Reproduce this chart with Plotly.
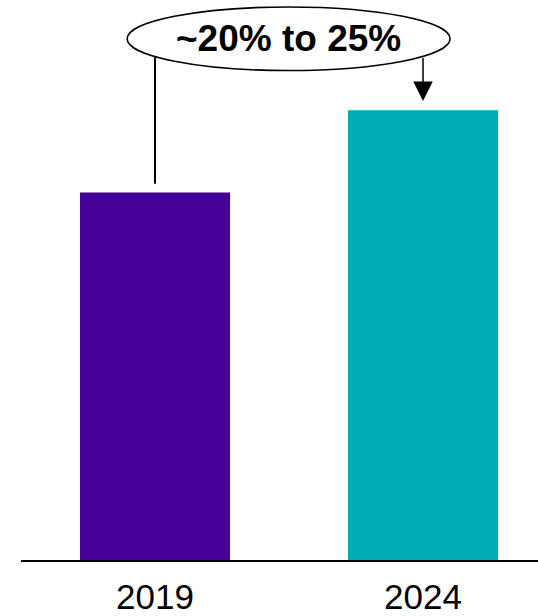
import plotly.graph_objects as go
import math

# Data
years = ["2019", "2024"]
values = [100, 122.4]          # indexed bar heights
bar_colors = ["#440099", "#00ADB6"]
growth_label = "~20% to 25%"

x_pos = list(range(len(years)))

fig = go.Figure()
fig.add_trace(go.Bar(
    x=x_pos, y=values, width=0.56,
    marker=dict(color=bar_colors, line=dict(width=0)),
    hoverinfo="skip",
))

y_max = 152.4
# Ellipse callout (data-space geometry)
ex0, ex1 = -0.104, 1.101
ey0, ey1 = 133.2, 150.5
ecx, ecy = (ex0 + ex1) / 2, (ey0 + ey1) / 2
erx, ery = (ex1 - ex0) / 2, (ey1 - ey0) / 2

def ellipse_bottom(x):
    d = (x - ecx) / erx
    return ecy - ery * math.sqrt(max(0.0, 1 - d * d))

fig.add_shape(type="circle", xref="x", yref="y",
              x0=ex0, x1=ex1, y0=ey0, y1=ey1,
              line=dict(color="black", width=1.6), fillcolor="white", layer="above")

# Line from 2019 bar up to ellipse
fig.add_shape(type="line", xref="x", yref="y",
              x0=x_pos[0], x1=x_pos[0], y0=values[0] + 2.4, y1=ellipse_bottom(x_pos[0]),
              line=dict(color="black", width=2))

# Arrow from ellipse down to 2024 bar
fig.add_annotation(x=x_pos[1], y=values[1] + 2.5, ax=x_pos[1], ay=ellipse_bottom(x_pos[1]),
                   xref="x", yref="y", axref="x", ayref="y",
                   showarrow=True, arrowhead=2, arrowsize=2.6, arrowwidth=1.5,
                   arrowcolor="black", text="")

fig.add_annotation(x=ecx, y=ecy, xref="x", yref="y", text="<b>" + growth_label + "</b>",
                   showarrow=False,
                   font=dict(family="Liberation Sans, Arial, sans-serif", size=37, color="black"))

fig.update_layout(
    width=538, height=616,
    margin=dict(l=21, r=0, t=0, b=52),
    paper_bgcolor="white", plot_bgcolor="white",
    showlegend=False,
    xaxis=dict(range=[-0.5, 1.429], tickvals=x_pos, ticktext=years,
               showgrid=False, zeroline=False, showline=True, linecolor="black", linewidth=1.5,
               ticks="", ticklabelstandoff=5,
               tickfont=dict(family="Liberation Sans, Arial, sans-serif", size=35, color="black"),
               fixedrange=True),
    yaxis=dict(range=[0, y_max], visible=False, showgrid=False, zeroline=False, fixedrange=True),
)

fig.write_html("out.html", config={"displayModeBar": False})

# Remove default page margin so the figure sits at the window's top-left corner
with open("out.html", "r", encoding="utf-8") as f:
    html = f.read()
html = html.replace("<head>", "<head><style>html,body{margin:0;padding:0;overflow:hidden;}</style>", 1)
with open("out.html", "w", encoding="utf-8") as f:
    f.write(html)
